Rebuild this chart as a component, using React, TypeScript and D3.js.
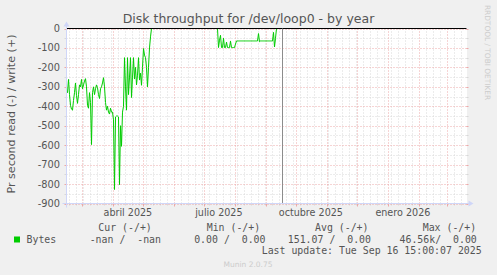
import React from 'react';
import * as d3 from 'd3';

const DAY = 86400000;
const startTime = Date.UTC(2025, 1, 13, 15);
const endTime = Date.UTC(2026, 2, 20, 15);
const nowTime = Date.UTC(2025, 8, 16, 15, 0, 7);

// daily read rate (negative = read), first active period starting at startTime
const readEarly = [
  -322, -330, -262, -340, -395, -415, -420, -370, -330, -280,
  -345, -385, -340, -290, -300, -262, -310, -290, -270, -258,
  -300, -395, -410, -330, -380, -597, -330, -300, -340, -310,
  -290, -305, -340, -360, -310, -300, -280, -253, -300, -380,
  -420, -400, -430, -440, -410, -430, -430, -470, -828, -455,
  -450, -450, -455, -803, -500, -606, -430, -400, -150, -300,
  -420, -150, -340, -250, -150, -355, -250, -150, -260, -200,
  -290, -240, -150, -265, -230, -292, -200, -103, -137, -150,
  -200, -300, -200, -100, -43, 0,
];
// second active period, starting at day 151
const lateStartDay = 151;
const readLate = [
  0, -98, -60, -35, -98, -98, -50, -98, -98, -70,
  -98, -98, -98, -65, -98, -98, -98, -98, -80, -64,
  -64, -64, -64, -64, -64, -64, -64, -64, -64, -64,
  -64, -64, -64, -64, -64, -64, -64, -64, -64, -64,
  -64, -26, -68, -64, -64, -64, -64, -64, -64, -64,
  -64, -64, -64, -64, -64, -64, -20, -95, -50, 0,
  0, 0, 0, 0, 0,
];

const yTicks = [0, -100, -200, -300, -400, -500, -600, -700, -800, -900];
const yMinorTicks = [-50, -150, -250, -350, -450, -550, -650, -750, -850];
const monthLabels = ['abril 2025', 'julio 2025', 'octubre 2025', 'enero 2026'];
const monthLabelDates = [Date.UTC(2025, 3, 16), Date.UTC(2025, 6, 16), Date.UTC(2025, 9, 16), Date.UTC(2026, 0, 16)];

const legendHeaders = ['Cur (-/+)', 'Min (-/+)', 'Avg (-/+)', 'Max (-/+)'];
const legendValues = ['-nan /  -nan', '0.00 /  0.00', '151.07 /  0.00', '46.56k/  0.00'];
const seriesName = 'Bytes';

const headerX = [98.3, 206.7, 315, 422.7];
const valueEndX = [161, 265.5, 371, 476.8];

export default function App() {
  const W = 497, H = 275;
  const x0 = 66.5, x1 = 466.5, yTop = 28.5, yBot = 203.5;
  const x = d3.scaleUtc().domain([new Date(startTime), new Date(endTime)]).range([x0, x1]);
  const y = d3.scaleLinear().domain([0, -900]).range([yTop, yBot]);

  const monthStarts = d3.utcMonth.range(new Date(startTime), new Date(endTime));
  const weekLines = d3.utcSunday.range(new Date(startTime), new Date(endTime))
    .filter(d => !monthStarts.some(m => Math.abs(+m - +d) < DAY));

  const line = d3.line<[number, number]>()
    .x(d => x(new Date(d[0])))
    .y(d => y(d[1]));
  const early: [number, number][] = readEarly.map((v, i) => [startTime + i * DAY, v]);
  const late: [number, number][] = readLate.map((v, i) => [startTime + (lateStartDay + i) * DAY, v]);

  const axisColor = '#CFD6F8';
  const gridColor = '#D8D8D8';
  const mgridColor = '#EDA8A8';
  const fontColor = '#555';
  const sans = 'DejaVu Sans, sans-serif';
  const mono = 'DejaVu Sans Mono, monospace';
  const dash = '1,2';
  const px = (v: number) => Math.round(v) + 0.5;

  return (
    <svg width={W} height={H} style={{ position: 'absolute', left: 0, top: 0 }}>
      <rect x={0} y={0} width={W} height={H} fill="#F0F0F0" />
      <rect x={66} y={28} width={401} height={176} fill="#FFFFFF" />

      {/* vertical minor grid */}
      {weekLines.map((d, i) => (
        <g key={'w' + i}>
          <line x1={px(x(d))} x2={px(x(d))} y1={yTop} y2={yBot} stroke={gridColor} strokeDasharray={dash} />
          <line x1={px(x(d))} x2={px(x(d))} y1={yBot} y2={yBot + 2} stroke={gridColor} />
        </g>
      ))}
      {/* horizontal minor grid */}
      {yMinorTicks.map((v, i) => (
        <g key={'hm' + i}>
          <line x1={x0} x2={x1} y1={px(y(v))} y2={px(y(v))} stroke={gridColor} strokeDasharray={dash} />
          <line x1={x0 - 2} x2={x0} y1={px(y(v))} y2={px(y(v))} stroke={gridColor} />
          <line x1={x1} x2={x1 + 2} y1={px(y(v))} y2={px(y(v))} stroke={gridColor} />
        </g>
      ))}
      {/* vertical major grid */}
      {monthStarts.map((d, i) => (
        <g key={'m' + i}>
          <line x1={px(x(d))} x2={px(x(d))} y1={yTop} y2={yBot} stroke={mgridColor} strokeDasharray={dash} />
          <line x1={px(x(d))} x2={px(x(d))} y1={yBot} y2={yBot + 3} stroke={mgridColor} />
        </g>
      ))}
      {/* horizontal major grid */}
      {yTicks.map((v, i) => (
        <g key={'hM' + i}>
          <line x1={x0} x2={x1} y1={px(y(v))} y2={px(y(v))} stroke={mgridColor} strokeDasharray={dash} />
          <line x1={x0 - 2} x2={x0} y1={px(y(v))} y2={px(y(v))} stroke={mgridColor} />
          <line x1={x1} x2={x1 + 2} y1={px(y(v))} y2={px(y(v))} stroke={mgridColor} />
          <text x={60} y={y(v) + 3.5} textAnchor="end" fontFamily={sans} fontSize={9.8} fill={fontColor}>{v}</text>
        </g>
      ))}

      {/* data */}
      <path d={line(early) || ''} fill="none" stroke="#00CC00" strokeWidth={1} />
      <path d={line(late) || ''} fill="none" stroke="#00CC00" strokeWidth={1} />
      {/* zero line */}
      <line x1={x0} x2={x1} y1={y(0)} y2={y(0)} stroke="#000" strokeWidth={1} />
      {/* now line */}
      <line x1={px(x(new Date(nowTime)))} x2={px(x(new Date(nowTime)))} y1={yTop} y2={yBot} stroke="#8C8C8C" strokeWidth={1} />

      {/* axes */}
      <line x1={x0 - 4} x2={x1 + 4} y1={yBot} y2={yBot} stroke={axisColor} />
      <line x1={x0} x2={x0} y1={yBot + 4} y2={yTop - 4} stroke={axisColor} />
      <path d={`M${x1 + 2},${yBot - 3}L${x1 + 2},${yBot + 3}L${x1 + 7},${yBot}Z`} fill={axisColor} />
      <path d={`M${x0 - 3},${yTop - 2}L${x0 + 3},${yTop - 2}L${x0},${yTop - 7}Z`} fill={axisColor} />

      {/* month labels */}
      {monthLabels.map((t, i) => (
        <text key={t} x={x(new Date(monthLabelDates[i]))} y={216} textAnchor="middle" fontFamily={sans} fontSize={9.6} fill={fontColor}>{t}</text>
      ))}

      {/* title */}
      <text x={248.5} y={23} textAnchor="middle" fontFamily={sans} fontSize={12.5} fill={fontColor}>Disk throughput for /dev/loop0 - by year</text>
      {/* y label */}
      <text transform="translate(15,114) rotate(-90)" textAnchor="middle" fontFamily={sans} fontSize={11.1} fill={fontColor}>Pr second read (-) / write (+)</text>
      {/* watermark */}
      <text transform="translate(485,52.5) rotate(90)" textAnchor="middle" fontFamily={sans} fontSize={7.4} fill="#CCCCCC">RRDTOOL / TOBI OETIKER</text>

      {/* legend */}
      {legendHeaders.map((t, i) => (
        <text key={t} x={headerX[i]} y={231} fontFamily={mono} fontSize={9.9} fill={fontColor} style={{ whiteSpace: 'pre' }}>{t}</text>
      ))}
      <rect x={14} y={236.5} width={6} height={6} fill="#00CC00" />
      <text x={26.5} y={242.7} fontFamily={mono} fontSize={9.9} fill={fontColor}>{seriesName}</text>
      {legendValues.map((t, i) => (
        <text key={i} x={valueEndX[i]} y={242.7} textAnchor="end" fontFamily={mono} fontSize={9.9} fill={fontColor} style={{ whiteSpace: 'pre' }}>{t}</text>
      ))}
      <text x={261.7} y={254.2} fontFamily={mono} fontSize={9.9} fill={fontColor} style={{ whiteSpace: 'pre' }}>Last update: Tue Sep 16 15:00:07 2025</text>
      <text x={248} y={266.5} textAnchor="middle" fontFamily={sans} fontSize={7.5} fill="#CCCCCC">Munin 2.0.75</text>
    </svg>
  );
}
